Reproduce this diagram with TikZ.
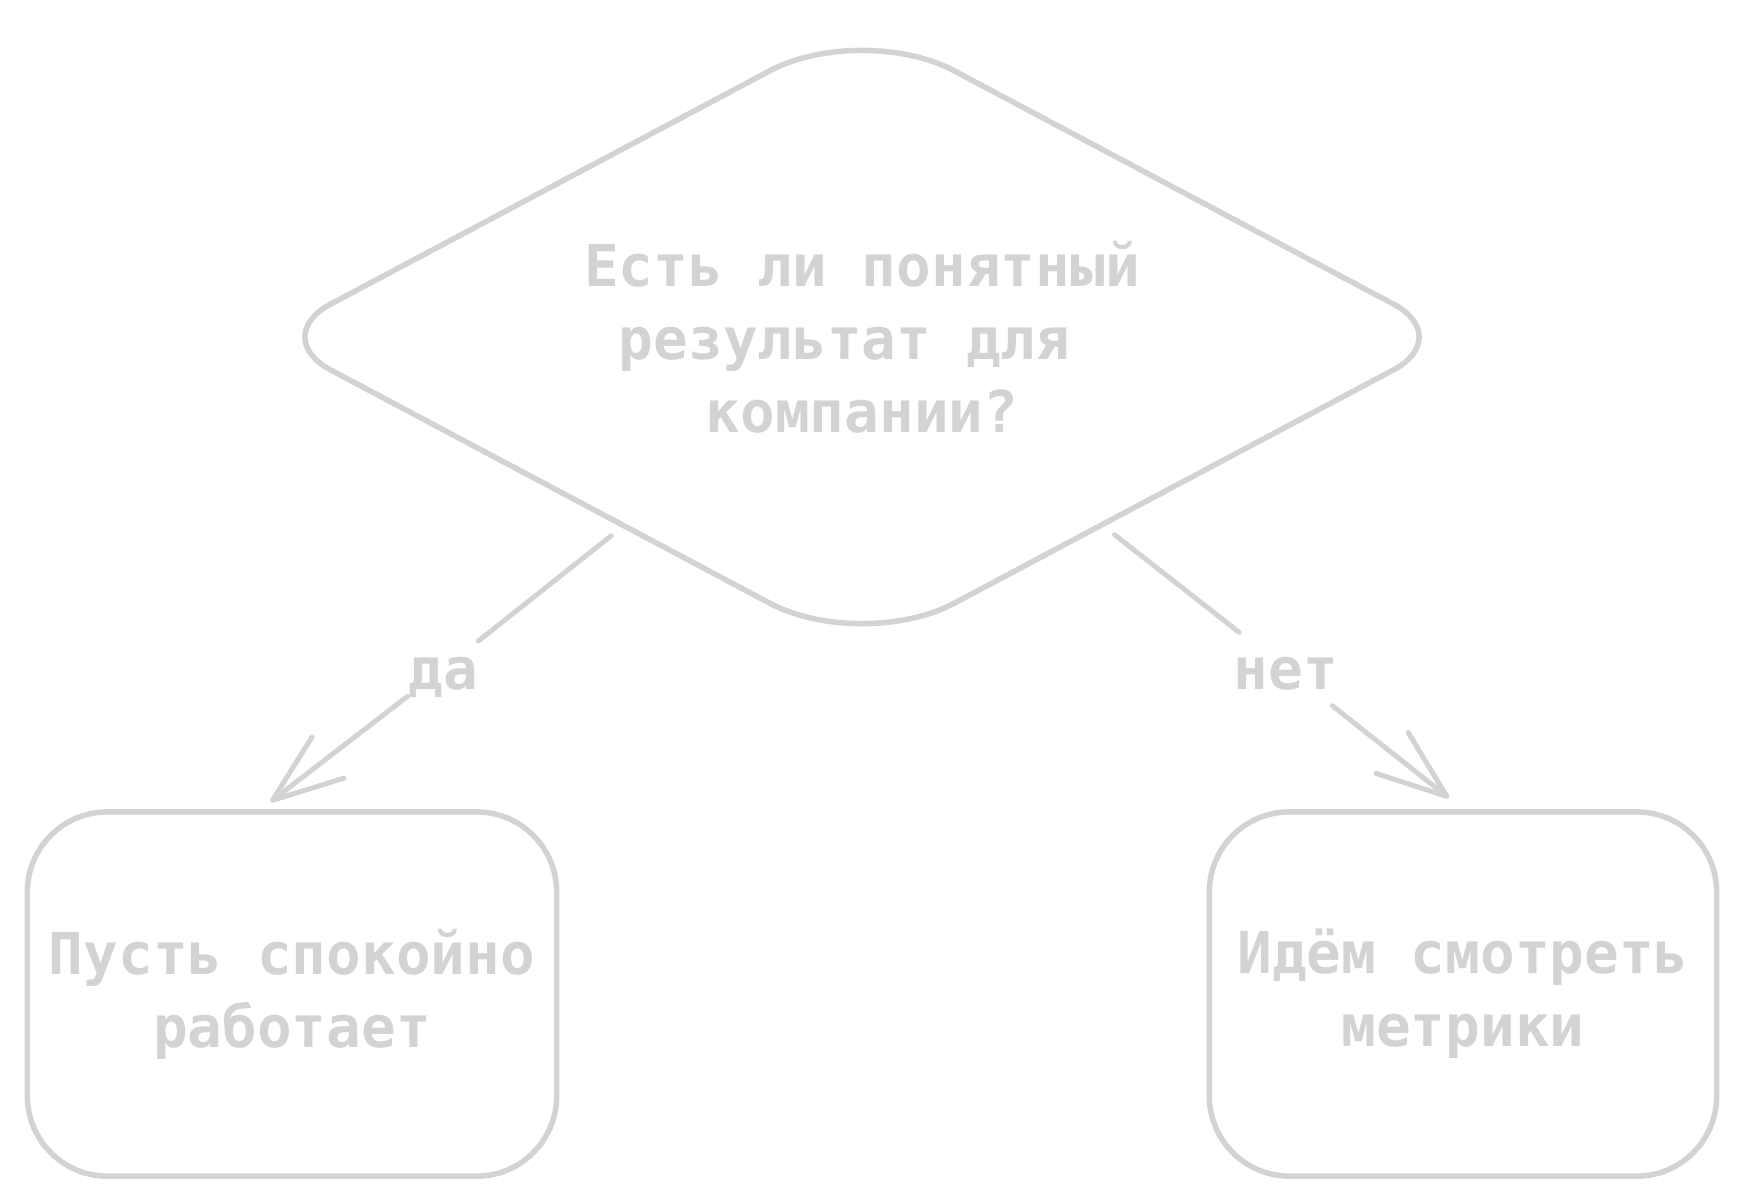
\documentclass[tikz,border=0pt]{standalone}
\usepackage{fontspec}
\setmonofont{DejaVu Sans Mono}
\usepackage{tikz}
\usetikzlibrary{positioning,shapes.geometric,arrows.meta,calc}

\definecolor{sketch}{HTML}{D3D3D3}
\newcommand{\trailspace}{\hphantom{x}}

\tikzset{
    question/.style={diamond, aspect=1.9, minimum width=11.86cm, minimum height=6.30cm, inner sep=0pt, outer sep=0pt, align=center},
    outline/.style={draw=sketch, line width=0.055cm, line join=round},
    outcome/.style={draw=sketch, line width=0.055cm, rounded corners=0.8cm, minimum height=3.64cm, align=center},
    answer/.style={fill=white, inner sep=0pt, text height=0.56cm, text depth=0.16cm},
    flow/.style={draw=sketch, line width=0.05cm, line cap=round},
    flowtip/.style={flow, -{Straight Barb[length=0.7cm, width=0.52cm, round]}},
}

\begin{document}
\begin{tikzpicture}[x=0.01cm, y=-0.01cm, every node/.append style={text=sketch, font=\ttfamily\bfseries\fontsize{16.4pt}{20.8pt}\selectfont}]
    \useasboundingbox (0,0) rectangle (1740,1199);

    % question
    \node[question] (q) at (862,337) {Есть ли понятный\\результат для\trailspace\\компании?};
    \draw[outline] ($(q.west)!0.5!(q.north)$) [rounded corners=1.04cm] -- (q.north) -- ($(q.north)!0.5!(q.east)$)
        [rounded corners=0.7cm] -- (q.east) -- ($(q.east)!0.5!(q.south)$)
        [rounded corners=1.04cm] -- (q.south) -- ($(q.south)!0.5!(q.west)$)
        [rounded corners=0.7cm] -- (q.west) -- cycle;

    % outcomes
    \node[outcome, minimum width=5.29cm] (yes) at (292,994) {Пусть спокойно\\работает};
    \node[outcome, minimum width=5.07cm] (no) at (1463,994) {Идём смотреть\\метрики};

    \node[answer] (yeslabel) at (443,669) {да};
    \node[answer] (nolabel) at (1286,669) {нет};

    \draw[flow, shorten <=0.16cm] (q) -- (yeslabel);
    \draw[flowtip, shorten >=0.12cm] (yeslabel) -- ([xshift=-0.31cm]yes.north);
    \draw[flow, shorten <=0.16cm] (q) -- (nolabel);
    \draw[flowtip, shorten >=0.18cm] (nolabel) -- (no.north);
\end{tikzpicture}
\end{document}
